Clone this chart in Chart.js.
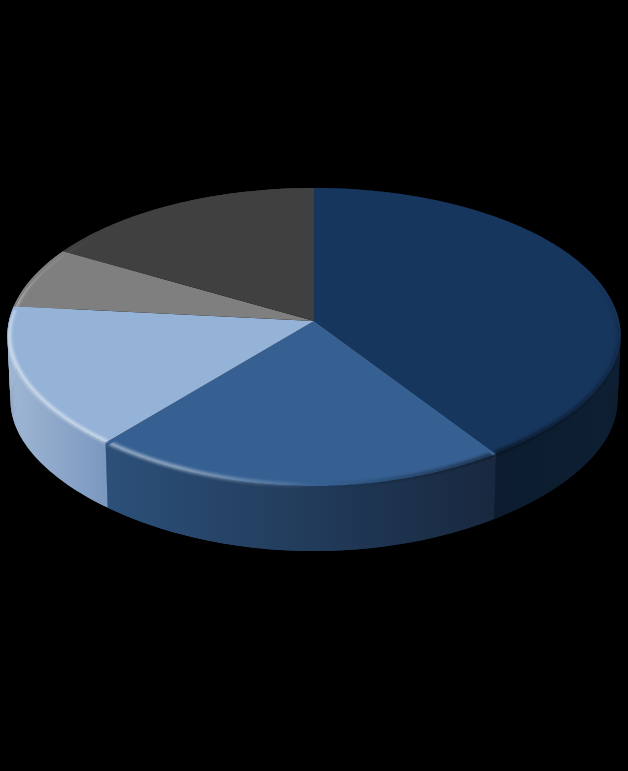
<!DOCTYPE html>
<html>
<head>
<meta charset="utf-8">
<style>
  html,body{margin:0;padding:0;background:#000;}
  #wrap{width:628px;height:771px;}
</style>
<script src="https://cdn.jsdelivr.net/npm/chart.js@4/dist/chart.umd.min.js"></script>
</head>
<body>
<div id="wrap"><canvas id="pie" width="628" height="771"></canvas></div>
<script>
/* ── DATA ── */
const categories = ['A','B','C','D','E'];
const values = [40.7,20.3,15.6,6.7,16.7];
const topColors = ['#17365d','#366092','#95b3d7','#7f7f7f','#404040'];
// wall shading, left edge -> right edge of each slice
const wallLeft = ['#0a1828','#2c5079','#a0b7d4','#666','#333'];
const wallRight = ['#0e1f33','#18283f','#7b98c0','#666','#333'];

/* ── VIEW ── */
const squash = 147.3/305, persp = 0.1074, depth = 65, bottomScale = 0.99;

function project(arc, a, r){
  // front edge of the disc is a little flatter than a true ellipse
  const s = Math.sin(a), s2 = Math.sin(2*a);
  const f = s > 0 ? 1 - .016*s2*s2 : 1;
  const u = Math.cos(a)*r*f, v = s*r*f, w = 1 - persp*v;
  return [arc.x + arc.outerRadius*u/w, arc.y + arc.outerRadius*squash*v/w];
}
function lower(arc, p){
  return [arc.x + (p[0]-arc.x)*bottomScale, p[1] + depth];
}
function sweep(arc, r){
  const {startAngle:s, endAngle:e} = arc, pts = [];
  const n = Math.max(2, Math.ceil((e-s)/0.01));
  for(let i=0;i<=n;i++) pts.push(project(arc, s+(e-s)*i/n, r));
  return pts;
}
function trace(ctx, pts){
  pts.forEach((p,i) => i ? ctx.lineTo(p[0],p[1]) : ctx.moveTo(p[0],p[1]));
}

/* ── TOP FACE: the library's arcs, drawn through the view ── */
Chart.ArcElement.prototype.draw = function(ctx){
  const pts = sweep(this, 1), apex = [this.x, this.y];
  ctx.save();
  ctx.fillStyle = this.options.backgroundColor;
  ctx.beginPath();
  trace(ctx, [apex].concat(pts));
  ctx.closePath();
  ctx.fill();

  // bevel, kept inside the slice and a few px of its wall
  ctx.beginPath();
  trace(ctx, [apex].concat(pts.map(p => [p[0],p[1]+4])));
  ctx.closePath();
  ctx.clip();

  const g = ctx.createConicGradient(0, this.x, this.y);
  const stop = (deg, col) => g.addColorStop(deg/360, col);
  stop(0,'rgba(0,0,0,.15)');
  stop(35,'rgba(0,0,0,.5)');
  stop(85,'rgba(0,0,0,0)');
  stop(97,'rgba(255,255,255,.10)');
  stop(135,'rgba(255,255,255,.45)');
  stop(175,'rgba(255,255,255,.55)');
  stop(205,'rgba(255,255,255,0)');
  stop(345,'rgba(0,0,0,0)');
  stop(360,'rgba(0,0,0,.15)');
  ctx.strokeStyle = g;
  ctx.filter = 'blur(1.8px)';
  ctx.lineWidth = 4;
  ctx.beginPath();
  trace(ctx, sweep(this, .994));
  ctx.stroke();
  ctx.restore();
};

/* ── SIDE WALL ── */
const wallPlugin = {
  id:'wall',
  beforeDatasetsDraw(chart){
    const ctx = chart.ctx;
    chart.getDatasetMeta(0).data.forEach((arc,i) => {
      const top = sweep(arc,1), bot = top.map(p => lower(arc,p));
      const xs = top.map(p => p[0]);
      const g = ctx.createLinearGradient(Math.min(...xs),0,Math.max(...xs),0);
      g.addColorStop(0,wallLeft[i]);
      g.addColorStop(1,wallRight[i]);
      ctx.fillStyle = g;
      // one overlapping quad per step, so the sides of the disc stay convex
      for(let j=0;j<top.length-1;j++){
        const k = Math.min(j+2, top.length-1);
        ctx.beginPath();
        trace(ctx, [top[j],top[k],bot[k],bot[j]]);
        ctx.closePath();
        ctx.fill();
      }
    });
  }
};

/* ── CHART ── */
new Chart(document.getElementById('pie'),{
  type:'pie',
  data:{
    labels:categories,
    datasets:[{data:values,backgroundColor:topColors,borderWidth:0}]
  },
  options:{
    responsive:false,
    animation:false,
    layout:{padding:{top:16,bottom:145,left:9,right:9}},
    plugins:{legend:{display:false},tooltip:{enabled:false}}
  },
  plugins:[wallPlugin]
});
</script>
</body>
</html>
